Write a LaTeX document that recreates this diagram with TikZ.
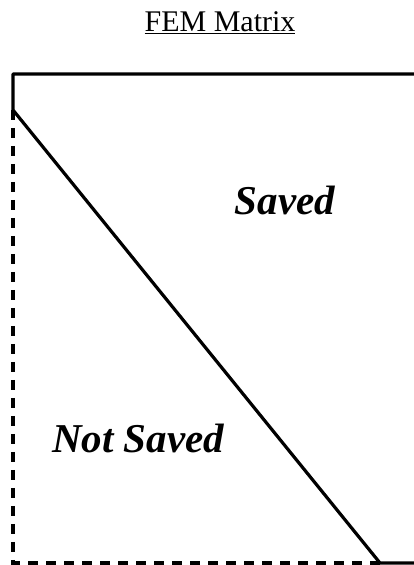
\documentclass[tikz,border=0pt]{standalone}
\usepackage{fontspec}
\setmainfont{Liberation Serif}
\begin{document}
\begin{tikzpicture}[x=1pt,y=1pt,
  solidedge/.style={line width=3.2pt, line join=round},
  dashededge/.style={line width=3.2pt, dash pattern=on 10pt off 8pt},
  label/.style={font=\fontsize{41}{41}\selectfont\bfseries\itshape, inner sep=0pt, anchor=base},
  titlelabel/.style={font=\fontsize{30}{30}\selectfont, inner sep=0pt, anchor=base}]
\useasboundingbox (0,0) rectangle (413,565);
\coordinate (tr) at (415,491);
\coordinate (tl) at (13,491);
\coordinate (ds) at (13,455);
\coordinate (de) at (380,2);
\coordinate (bl) at (13,2);
\coordinate (br) at (415,2);
\draw[solidedge] (tr) -- (tl) -- (ds) -- (de) -- (br);
\draw[dashededge] (ds) -- (bl) -- (de);
\node[titlelabel] (title) at (220,533) {\underline{FEM Matrix}};
\node[label] (saved) at (285,350) {Saved};
\node[label] (notsaved) at (138,112) {Not Saved};
\end{tikzpicture}
\end{document}
